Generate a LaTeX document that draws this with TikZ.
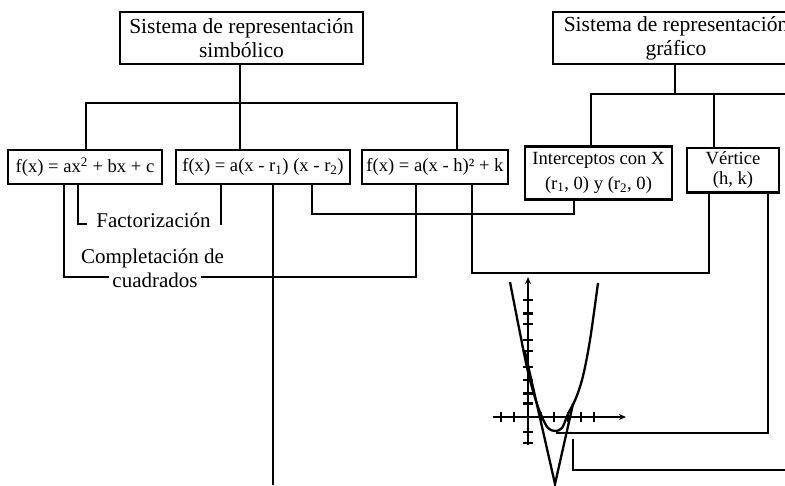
\documentclass[tikz,border=0pt]{standalone}
\usepackage{fontspec}
\setmainfont{Liberation Serif}
\usetikzlibrary{arrows.meta}
\begin{document}
\begin{tikzpicture}[x=1pt,y=-1pt,line width=2.6pt,
  box/.style={draw,rectangle,inner sep=0pt,align=center,line width=2.6pt},
  big/.style={font=\fontsize{21.5}{24}\selectfont},
  small/.style={font=\fontsize{18.6}{24.5}\selectfont},
  lbl/.style={inner ysep=0pt,font=\fontsize{21}{24}\selectfont},
  graphline/.style={line width=2.3pt},
  axis/.style={line width=2pt,-{Stealth[length=7pt,width=6pt]}},
  tick/.style={line width=2.4pt}]
\useasboundingbox (0,0) rectangle (785,485);

% boxes
\node[box,big,minimum width=243pt,minimum height=52pt] (tl) at (241.5,38) {Sistema de representación\\simbólico};
\node[box,big,minimum width=246pt,minimum height=52pt] (tr) at (676,38) {Sistema de representación\\gráfico};
\node[box,small,minimum width=154pt,minimum height=34pt] (b1) at (85,167) {f(x) = ax\textsuperscript{2} + bx + c};
\node[box,small,minimum width=174pt,minimum height=34pt] (b2) at (263,167) {f(x) = a(x - r\textsubscript{1}) (x - r\textsubscript{2})};
\node[box,small,minimum width=146pt,minimum height=34pt] (b3) at (435,167) {f(x) = a(x - h)² + k};
\node[box,small,minimum width=147pt,minimum height=52.6pt] (ic) at (598.5,173) {Interceptos con X\\(r\textsubscript{1}, 0) y (r\textsubscript{2}, 0)};
\node[box,minimum width=92pt,minimum height=44.5pt,font=\fontsize{18.6}{20.5}\selectfont] (vx) at (733,170.25) {Vértice\\(h, k)};

% labels
\node[lbl,inner xsep=8.3pt,anchor=base] (fac) at (153.5,227) {Factorización};
\node[lbl,anchor=base] (comp) at (152.5,263) {Completación de};
\node[lbl,inner xsep=2.5pt,anchor=base] (cua) at (155,287) {cuadrados};

% junction coordinates
\coordinate (ja) at (86,103);
\coordinate (jb) at (240,103);
\coordinate (jc) at (457,103);
\coordinate (jd) at (675,94);
\coordinate (je) at (591,94);
\coordinate (jf) at (714,94);
\coordinate (jg) at (790,94);
\coordinate (f1) at (78,224);
\coordinate (f2) at (221,224);
\coordinate (c1) at (64,277);
\coordinate (c2) at (416,277);
\coordinate (bot) at (273,485);
\coordinate (p1) at (312,214);
\coordinate (p2) at (574,214);
\coordinate (q1) at (472,273);
\coordinate (q2) at (709,273);
\coordinate (v1) at (768,433);
\coordinate (v2) at (556,433);
\coordinate (w0) at (790,470);
\coordinate (w1) at (573,470);
\coordinate (w2) at (573,439);

% symbolic tree
\draw (jb |- tl.south) -- (jb);
\draw (ja |- b1.north) -- (ja) -- (jc) -- (jc |- b3.north);
\draw (jb) -- (jb |- b2.north);
% graphic tree
\draw (jd |- tr.south) -- (jd);
\draw (je |- ic.north) -- (je) -- (jg);
\draw (jf) -- (jf |- vx.north);

% Factorizacion
\draw (f1 |- b1.south) -- (f1) -- (fac.west |- f1);
\draw (fac.east |- f2) -- (f2) -- (f2 |- b2.south);
% Completacion de cuadrados
\draw (c1 |- b1.south) -- (c1) -- (cua.west |- c1);
\draw (cua.east |- c2) -- (c2) -- (c2 |- b3.south);
% other connectors
\draw (bot |- b2.south) -- (bot);
\draw (p1 |- b2.south) -- (p1) -- (p2) -- (p2 |- ic.south);
\draw (q1 |- b3.south) -- (q1) -- (q2) -- (q2 |- vx.south);
\draw (v1 |- vx.south) -- (v1) -- (v2);
\draw (w0) -- (w1) -- (w2);

% graph
\draw[axis] (493,417) -- (626,417);
\draw[axis] (528,445) -- (528,277);
\foreach \yy in {300,313.3,324,340,351,366.7,380,393.3,403.3,432,443}
  \draw[tick] (523,\yy) -- (533,\yy);
\foreach \xx in {501,514,541,554,568,581,594}
  \draw[tick] (\xx,412) -- (\xx,422);
\draw[graphline] plot[smooth,tension=0.55] coordinates {(510,282) (519,328) (528,372) (536,401) (542,417) (548,428) (555,431) (562,428) (568,414) (576,398) (583,376) (590,340) (598,283)};
\draw[graphline] (525,352) -- (555,484) -- (573,404);
\end{tikzpicture}
\end{document}
